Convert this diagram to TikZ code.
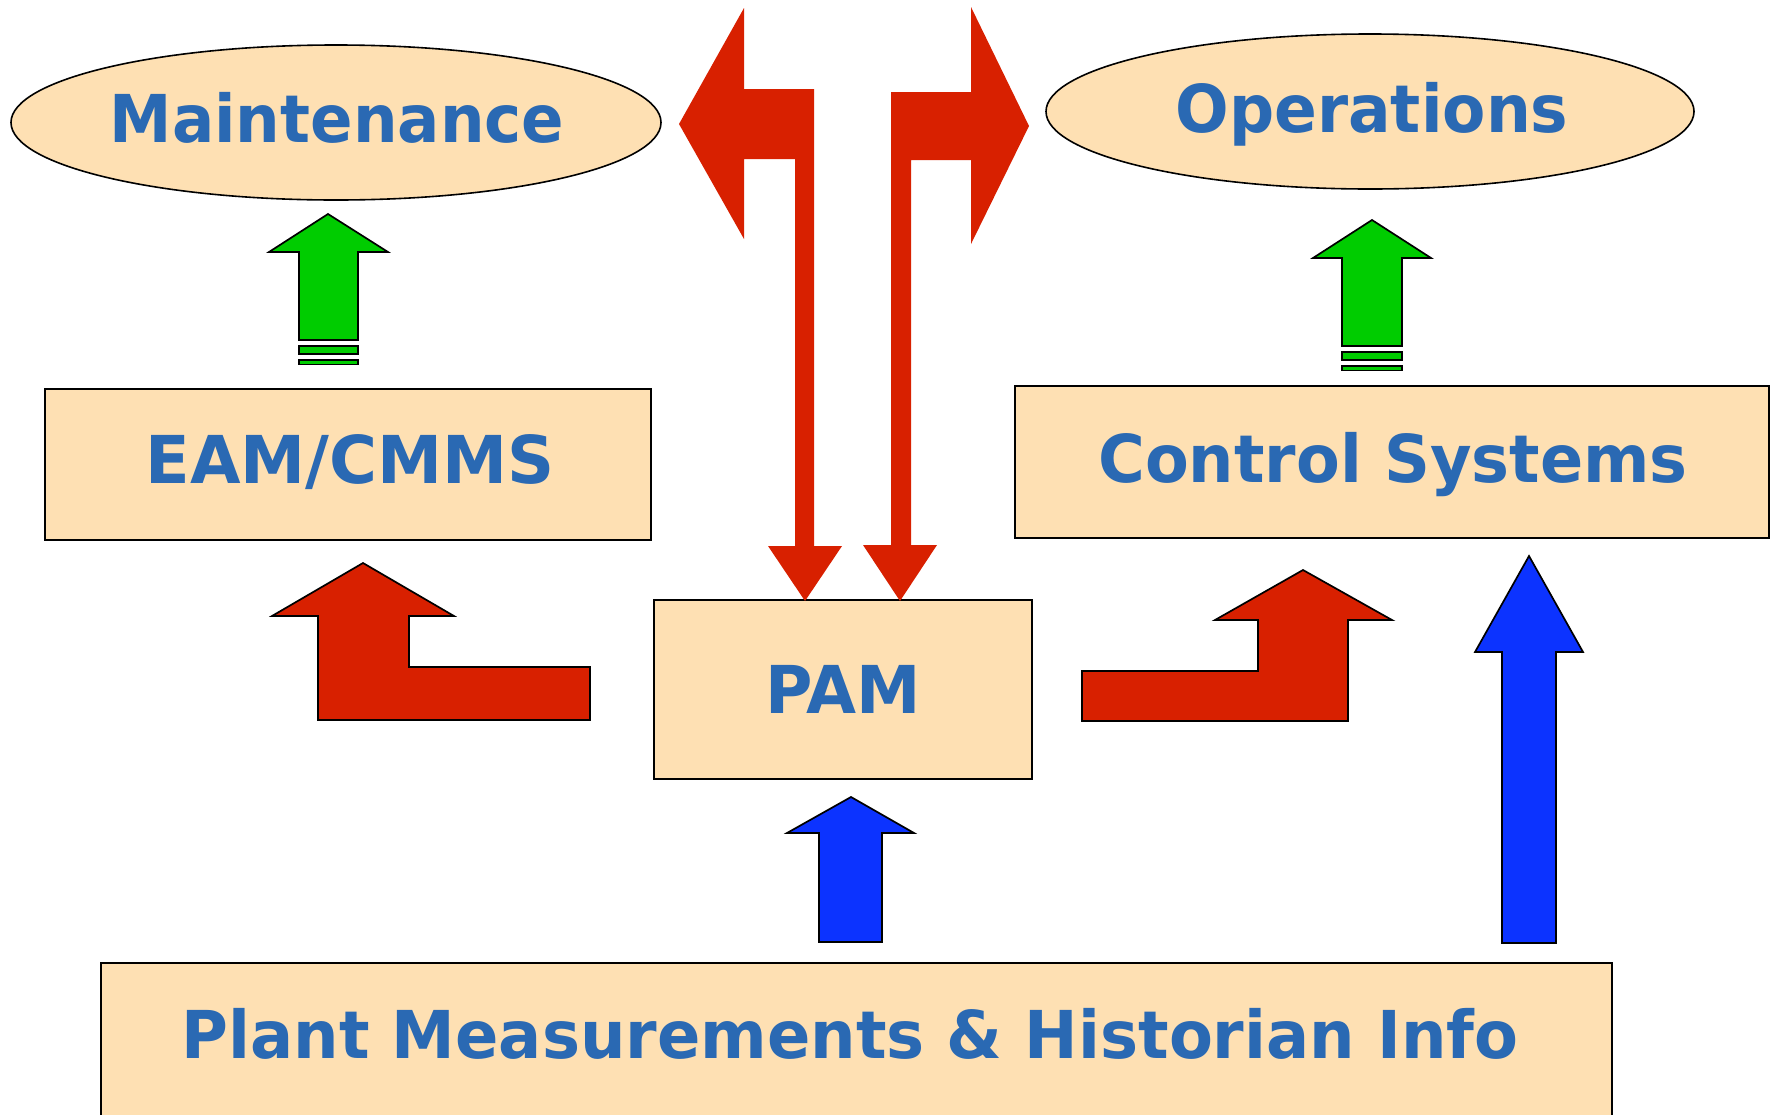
\documentclass[tikz,border=0pt]{standalone}
\usepackage{fontspec}
\setmainfont{DejaVu Sans}
\usetikzlibrary{shapes.geometric}
\definecolor{beige}{HTML}{FEE0B3}
\definecolor{redA}{HTML}{D82000}
\definecolor{greenA}{HTML}{00CC00}
\definecolor{blueA}{HTML}{0C33FF}
\definecolor{txt}{HTML}{2A69B3}
\newcommand{\wsc}[2]{\scalebox{#1}[1]{#2}}
\tikzset{
  box/.style={draw=black, fill=beige, line width=1pt, rectangle, inner sep=0pt, outer sep=0pt},
  oval/.style={draw=black, fill=beige, line width=0.8pt, ellipse, inner sep=0pt, outer sep=0pt},
  lbl/.style={font=\fontsize{33}{40}\selectfont\bfseries, text=txt, inner sep=0pt, anchor=base},
  redflat/.style={fill=redA},
  redblk/.style={fill=redA, draw=black, line width=0.85pt, line join=miter},
  greenblk/.style={fill=greenA, draw=black, line width=0.85pt, line join=miter},
  blueblk/.style={fill=blueA, draw=black, line width=0.85pt, line join=miter}
}
\begin{document}
\begin{tikzpicture}[x=0.5pt, y=0.5pt]
\useasboundingbox (0,0) rectangle (1771,-1114);
\fill[white] (0,0) rectangle (1771,-1114);
% boxes and ellipses
\node[oval, minimum width=325pt, minimum height=77.5pt] (maint) at (336,-122.5) {};
\node[oval, minimum width=324pt, minimum height=77.5pt] (ops) at (1370,-111.5) {};
\node[box, minimum width=303pt, minimum height=75.5pt] (eam) at (348,-464.5) {};
\node[box, minimum width=377pt, minimum height=76pt] (ctrl) at (1392,-462) {};
\node[box, minimum width=189pt, minimum height=89.5pt] (pam) at (843,-689.5) {};
\node[box, minimum width=755.5pt, minimum height=83.5pt] (plant) at (856.5,-1046.5) {};
% labels
\node[lbl] (tmaint) at (337,-142) {\wsc{0.95}{Maintenance}};
\node[lbl] (tops) at (1372,-132) {\wsc{0.956}{Operations}};
\node[lbl] (team) at (350,-483) {\wsc{0.99}{EAM/CMMS}};
\node[lbl] (tctrl) at (1393,-482) {\wsc{0.966}{Control Systems}};
\node[lbl] (tpam) at (843,-713) {\wsc{0.98}{PAM}};
\node[lbl] (tplant) at (850,-1058) {\wsc{0.969}{Plant Measurements \& Historian Info}};
% top red arrows
\fill[redflat] (814,-89) -- (744,-89) -- (744,-8) -- (679,-124) -- (744,-239) -- (744,-159)
  -- (795,-159) -- (795,-546) -- (768,-546) -- (805,-601) -- (842,-546) -- (814,-546) -- cycle;
\fill[redflat] (891,-92) -- (971,-92) -- (971,-7) -- (1029,-126) -- (971,-244) -- (971,-160)
  -- (911,-160) -- (911,-545) -- (937,-545) -- (900,-601) -- (863,-545) -- (891,-545) -- cycle;
% green arrows
\draw[greenblk] (328,-214) -- (388,-252) -- (358,-252) -- (358,-340) -- (299,-340) -- (299,-252) -- (269,-252) -- cycle;
\draw[greenblk] (299,-346) rectangle (358,-354);
\draw[greenblk] (299,-360) rectangle (358,-364.5);
\draw[greenblk] (1372,-220) -- (1431,-258) -- (1402,-258) -- (1402,-346) -- (1342,-346) -- (1342,-258) -- (1313,-258) -- cycle;
\draw[greenblk] (1342,-352) rectangle (1402,-360);
\draw[greenblk] (1342,-366) rectangle (1402,-370.5);
% red L arrows
\draw[redblk] (363,-563) -- (454,-616) -- (409,-616) -- (409,-667) -- (590,-667) -- (590,-720) -- (318,-720) -- (318,-616) -- (272,-616) -- cycle;
\draw[redblk] (1303,-570) -- (1392,-620) -- (1348,-620) -- (1348,-721) -- (1082,-721) -- (1082,-671) -- (1258,-671) -- (1258,-620) -- (1215,-620) -- cycle;
% blue arrows
\draw[blueblk] (1529,-556) -- (1583,-652) -- (1556,-652) -- (1556,-943) -- (1502,-943) -- (1502,-652) -- (1475,-652) -- cycle;
\draw[blueblk] (851,-797) -- (914,-833) -- (882,-833) -- (882,-942) -- (819,-942) -- (819,-833) -- (787,-833) -- cycle;
\end{tikzpicture}
\end{document}
